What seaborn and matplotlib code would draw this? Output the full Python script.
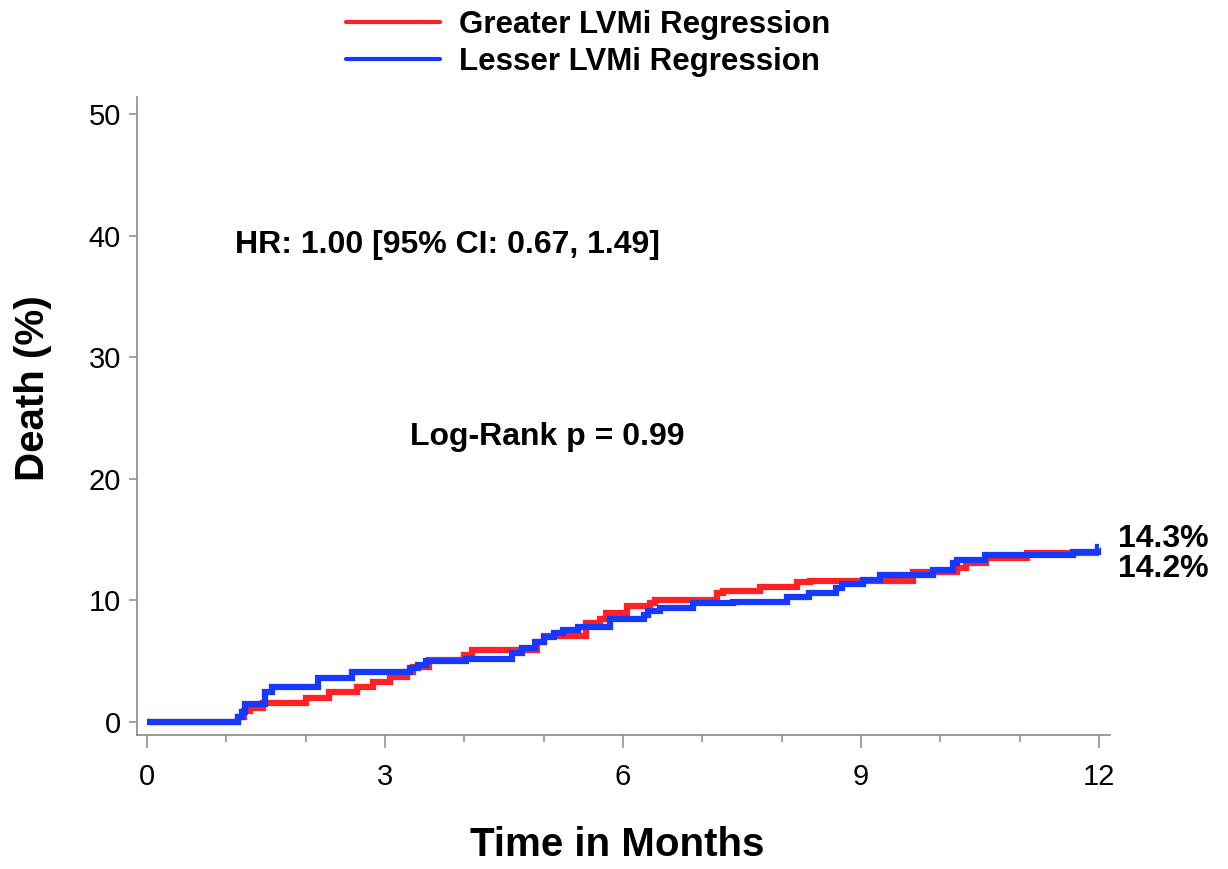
"""
Cumulative death by LVMi regression group, 12-month Kaplan-Meier style step curves.
"""

import numpy as np
import pandas as pd
import matplotlib
matplotlib.use("Agg")
import matplotlib.pyplot as plt
import matplotlib.ticker as mticker
import seaborn as sns


# Data --------------------------------------------------------------------------
GROUPS = ["Greater LVMi Regression", "Lesser LVMi Regression"]
PALETTE = {"Greater LVMi Regression": "#FF2222", "Lesser LVMi Regression": "#1638FF"}

greater_t = [0, 1.15, 1.22, 1.30, 1.46, 2.00, 2.30, 2.65, 2.85, 3.06, 3.28, 3.35, 3.56,
             4.00, 4.10, 4.92, 5.00, 5.54, 5.71, 5.79, 6.05, 6.34, 6.40, 7.18, 7.26,
             7.73, 8.19, 8.36, 9.66, 10.21, 10.33, 10.58, 11.09, 12.0]
greater_y = [0, 0.4, 0.9, 1.15, 1.55, 2.0, 2.5, 2.9, 3.3, 3.7, 4.1, 4.5, 5.1,
             5.5, 5.9, 6.6, 7.1, 8.1, 8.5, 9.0, 9.5, 9.8, 10.0, 10.6, 10.8,
             11.1, 11.5, 11.6, 12.35, 12.65, 13.05, 13.5, 13.9, 13.9]

lesser_t = [0, 1.15, 1.20, 1.24, 1.49, 1.58, 2.16, 2.58, 3.32, 3.42, 3.52, 4.02, 4.60,
            4.73, 4.89, 5.00, 5.13, 5.25, 5.43, 5.84, 6.26, 6.32, 6.47, 6.88, 7.39,
            8.07, 8.34, 8.69, 8.76, 9.03, 9.24, 9.91, 10.16, 10.21, 10.56, 11.67,
            11.99, 12.0]
lesser_y = [0, 0.44, 0.85, 1.5, 2.5, 2.9, 3.6, 4.1, 4.4, 4.7, 5.0, 5.2, 5.65,
            6.1, 6.6, 7.0, 7.3, 7.55, 7.8, 8.5, 8.8, 9.1, 9.35, 9.75, 9.9,
            10.3, 10.6, 11.0, 11.35, 11.7, 12.1, 12.5, 13.05, 13.3, 13.7, 14.0,
            14.4, 14.4]

X_TICKS = [0, 3, 6, 9, 12]
Y_TICKS = [0, 10, 20, 30, 40, 50]
END_LABELS = ["14.3%", "14.2%"]
HR_TEXT = "HR: 1.00 [95% CI: 0.67, 1.49]"
LOGRANK_TEXT = "Log-Rank p = 0.99"

df = pd.concat([
    pd.DataFrame({"time": greater_t, "death": greater_y, "group": GROUPS[0]}),
    pd.DataFrame({"time": lesser_t, "death": lesser_y, "group": GROUPS[1]}),
], ignore_index=True)


# Style ------------------------------------------------------------------------
sns.set_theme(style="ticks")
plt.rcParams["font.family"] = ["Liberation Sans", "DejaVu Sans"]
plt.rcParams.update({"text.color": "black", "axes.labelcolor": "black",
                     "xtick.color": "black", "ytick.color": "black"})
GREY = "#8a8a8a"

fig = plt.figure(figsize=(12.28, 8.69), dpi=100)
ax = fig.add_axes([0.1116, 0.1542, 0.7923, 0.7342])

sns.lineplot(data=df, x="time", y="death", hue="group", hue_order=GROUPS,
             palette=PALETTE, estimator=None, drawstyle="steps-post",
             lw=4.5, legend=False, ax=ax,
             solid_capstyle="butt", solid_joinstyle="miter")

ax.set_xlim(-0.126, 12.14)
ax.set_ylim(-1.07, 51.4)
ax.set_xticks(X_TICKS)
ax.set_yticks(Y_TICKS)
ax.xaxis.set_minor_locator(mticker.MultipleLocator(1))

for side in ["top", "right"]:
    ax.spines[side].set_visible(False)
for side in ["left", "bottom"]:
    ax.spines[side].set_color(GREY)
    ax.spines[side].set_linewidth(1.2)

ax.tick_params(axis="x", which="major", length=9.5, width=1.1, color=GREY,
               pad=11, labelsize=21, labelcolor="black")
ax.tick_params(axis="x", which="minor", length=5, width=1.1, color=GREY)
ax.tick_params(axis="y", length=5.5, width=1.1, color=GREY, pad=6,
               labelsize=21, labelcolor="black")

ax.set_xlabel("Time in Months", fontsize=29, fontweight="bold", va="center")
ax.xaxis.set_label_coords(0.493, -0.172)
ax.set_ylabel("Death (%)", fontsize=29, fontweight="bold", va="center")
ax.yaxis.set_label_coords(-0.107, 0.544)

ax.text(1.11, 38.6, HR_TEXT, fontsize=23, fontweight="bold", va="baseline")
ax.text(3.32, 22.8, LOGRANK_TEXT, fontsize=23, fontweight="bold", va="baseline")
ax.text(12.24, 14.4, END_LABELS[0], fontsize=23, fontweight="bold",
        va="baseline", clip_on=False)
ax.text(12.24, 11.9, END_LABELS[1], fontsize=23, fontweight="bold",
        va="baseline", clip_on=False)

handles = [plt.Line2D([], [], color=PALETTE[g], lw=3) for g in GROUPS]
fig.legend(handles, GROUPS, loc="center", bbox_to_anchor=(0.479, 0.950),
           frameon=False, handlelength=3.0, handletextpad=0.6,
           labelspacing=0.2, borderpad=0,
           prop={"weight": "bold", "size": 22.5})

fig.savefig("out.png", dpi=100)
